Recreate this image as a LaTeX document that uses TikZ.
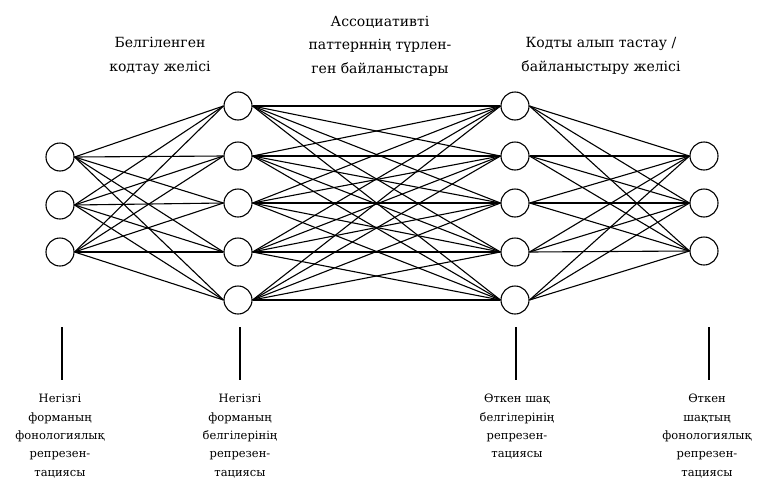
\documentclass[tikz,border=0pt]{standalone}
\usepackage{fontspec}
\setmainfont{DejaVu Serif}
\begin{document}
\begin{tikzpicture}[x=1pt,y=-1pt,
  neuron/.style={circle,draw,line width=1.1pt,minimum size=28pt,inner sep=0pt,fill=white},
  link/.style={line width=1.1pt},
  marker/.style={line width=1.5pt},
  toplab/.style={align=center,font=\fontsize{14}{23.5}\selectfont,inner sep=0pt},
  botlab/.style={align=center,font=\fontsize{11.5}{18.4}\selectfont,inner sep=0pt,anchor=north}]
\useasboundingbox (0,0) rectangle (767,498);
% columns
\foreach \i/\y in {1/157,2/205,3/252} \node[neuron] (a\i) at (60,\y) {};
\foreach \i/\y in {1/106,2/156,3/203,4/252,5/300} \node[neuron] (b\i) at (238,\y) {};
\foreach \i/\y in {1/106,2/156,3/203,4/252,5/300} \node[neuron] (c\i) at (515,\y) {};
\foreach \i/\y in {1/156,2/203,3/251} \node[neuron] (d\i) at (704,\y) {};
% connections
\foreach \i in {1,2,3} \foreach \j in {1,...,5} \draw[link] (a\i.east) -- (b\j.west);
\foreach \i in {1,...,5} \foreach \j in {1,...,5} \draw[link] (b\i.east) -- (c\j.west);
\foreach \i in {1,...,5} \foreach \j in {1,2,3} \draw[link] (c\i.east) -- (d\j.west);
% top labels
\node[toplab] (t1) at (160,56) {Белгіленген\\кодтау желісі};
\node[toplab] (t2) at (380,46) {Ассоциативті\\паттерннің түрлен-\\ген байланыстары};
\node[toplab] (t3) at (601,56) {Кодты алып тастау /\\байланыстыру желісі};
% markers
\coordinate (m1t) at (62,327); \coordinate (m1b) at (62,380);
\coordinate (m2t) at (240,327); \coordinate (m2b) at (240,380);
\coordinate (m3t) at (516,327); \coordinate (m3b) at (516,380);
\coordinate (m4t) at (709,327); \coordinate (m4b) at (709,380);
\draw[marker] (m1t) -- (m1b);
\draw[marker] (m2t) -- (m2b);
\draw[marker] (m3t) -- (m3b);
\draw[marker] (m4t) -- (m4b);
% bottom labels
\node[botlab] (l1) at (60,394) {Негізгі\\форманың\\фонологиялық\\репрезен-\\тациясы};
\node[botlab] (l2) at (240,394) {Негізгі\\форманың\\белгілерінің\\репрезен-\\тациясы};
\node[botlab] (l3) at (517,394) {Өткен шақ\\белгілерінің\\репрезен-\\тациясы};
\node[botlab] (l4) at (707,394) {Өткен\\шақтың\\фонологиялық\\репрезен-\\тациясы};
\end{tikzpicture}
\end{document}
